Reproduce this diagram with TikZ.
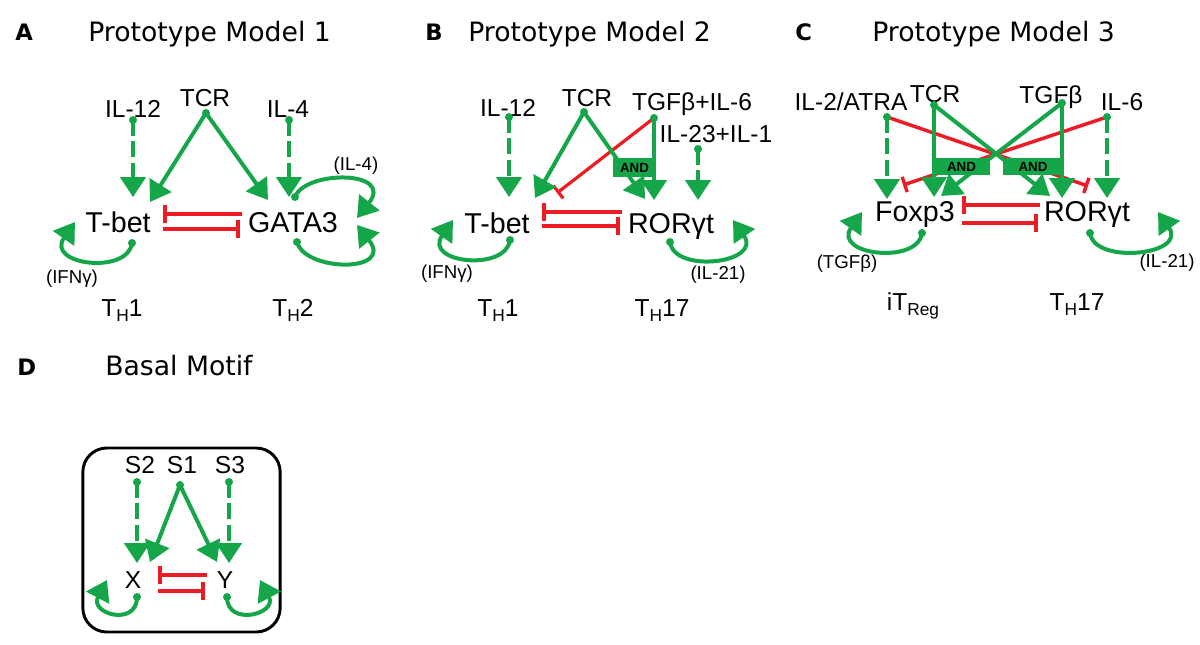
\documentclass[tikz,border=0pt]{standalone}
\usepackage{fontspec}
\setmainfont{Liberation Sans}
\newfontfamily\titlefont{DejaVu Sans}
\usetikzlibrary{arrows.meta}
\definecolor{grn}{RGB}{22,166,74}
\definecolor{rd}{RGB}{237,28,36}
\newcommand{\mysub}[1]{\raisebox{-0.45ex}{\fontsize{13}{13}\selectfont #1}}
\tikzset{
  sig/.style={anchor=base,font=\fontsize{18.4}{20}\selectfont,inner sep=0pt},
  gene/.style={anchor=base,font=\fontsize{21.5}{24}\selectfont,inner sep=0pt},
  small/.style={anchor=base,font=\fontsize{14}{16}\selectfont,inner sep=0pt},
  cell/.style={anchor=base,font=\fontsize{18.4}{20}\selectfont,inner sep=0pt},
  ttl/.style={anchor=base west,font=\titlefont\fontsize{20}{22}\selectfont,inner sep=0pt},
  plab/.style={anchor=base west,font=\titlefont\bfseries\fontsize{17}{20}\selectfont,inner sep=0pt},
  act/.style={draw=grn,line width=3pt,-{Triangle[width=19pt,length=15pt]}},
  dact/.style={act,dash pattern=on 12pt off 4pt},
  inh/.style={draw=rd,line width=3pt,-{Bar[width=14pt]}},
  tinh/.style={draw=rd,line width=2.4pt,-{Bar[width=12pt]}},
  selfloop/.style={draw=grn,line width=3pt,-{Triangle[width=19pt,length=15pt]}},
  andbox/.style={fill=grn,inner sep=0pt,font=\bfseries\fontsize{10}{10}\selectfont},
  dotc/.style={fill=grn}
}
\begin{document}
\begin{tikzpicture}[x=0.75pt,y=-0.75pt]
\useasboundingbox (0,0) rectangle (1200,644);

% ---------------- titles ----------------
\node[plab] (labA) at (15,40) {A};
\node[ttl] (ttlA) at (88,41) {Prototype Model 1};
\node[plab] (labB) at (425,40) {B};
\node[ttl] (ttlB) at (468,41) {Prototype Model 2};
\node[plab] (labC) at (795,40) {C};
\node[ttl] (ttlC) at (872,41) {Prototype Model 3};
\node[plab] (labD) at (17,375) {D};
\node[ttl] (ttlD) at (105,375) {Basal Motif};

% ---------------- Panel A ----------------
\node[sig] (a-il12) at (133,117) {IL-12};
\node[sig] (a-tcr) at (205,106) {TCR};
\node[sig] (a-il4) at (288,117) {IL-4};
\node[gene] (a-tbet) at (118,232) {T-bet};
\node[gene] (a-gata) at (293,232) {GATA3};
\node[small] (a-ifng) at (72,283) {(IFNγ)};
\node[small] (a-il4l) at (356,170) {(IL-4)};
\node[cell] (a-th1) at (122,316) {T\mysub{H}1};
\node[cell] (a-th2) at (293,316) {T\mysub{H}2};

\coordinate (a-d1) at (133,120); \coordinate (a-t1) at (133,197);
\coordinate (a-d2) at (206,113); \coordinate (a-t2) at (150,202); \coordinate (a-t3) at (268,200);
\coordinate (a-d3) at (289,120); \coordinate (a-t4) at (289,197);
\coordinate (a-r1s) at (242,214); \coordinate (a-r1e) at (163,214);
\coordinate (a-r2s) at (163,229); \coordinate (a-r2e) at (240,229);
\coordinate (a-l1) at (132,243); \coordinate (a-l1e) at (75,222);
\coordinate (a-l2) at (295,197); \coordinate (a-l2e) at (357,218);
\coordinate (a-l3) at (297,242); \coordinate (a-l3e) at (357,225);

\draw[dact] (a-d1) -- (a-t1);
\draw[act] (a-d2) -- (a-t2);
\draw[act] (a-d2) -- (a-t3);
\draw[dact] (a-d3) -- (a-t4);
\draw[inh] (a-r1s) -- (a-r1e);
\draw[inh] (a-r2s) -- (a-r2e);
\draw[selfloop] (a-l1) .. controls +(-4,32) and +(-30,43) .. (a-l1e);
\draw[selfloop] (a-l2) .. controls +(10,-27) and +(38,-48) .. (a-l2e);
\draw[selfloop] (a-l3) .. controls +(8,30) and +(38,48) .. (a-l3e);
\foreach \p in {a-d1,a-d2,a-d3,a-l1,a-l2,a-l3} \fill[dotc] (\p) circle[radius=3pt];

% ---------------- Panel B ----------------
\node[sig] (b-il12) at (508,116) {IL-12};
\node[sig] (b-tcr) at (587,106) {TCR};
\node[sig] (b-tgf) at (692,110) {TGFβ+IL-6};
\node[sig] (b-il23) at (716,142) {IL-23+IL-1};
\node[gene] (b-tbet) at (497,233) {T-bet};
\node[gene] (b-ror) at (671,233) {RORγt};
\node[small] (b-ifng) at (447,278) {(IFNγ)};
\node[small] (b-il21) at (718,279) {(IL-21)};
\node[cell] (b-th1) at (498,316) {T\mysub{H}1};
\node[cell] (b-th17) at (662,316) {T\mysub{H}17};

\coordinate (b-d1) at (509,117); \coordinate (b-t1) at (509,197);
\coordinate (b-d2) at (584,112); \coordinate (b-t2) at (535,198); \coordinate (b-t3) at (645,199);
\coordinate (b-d3) at (654,118); \coordinate (b-t4) at (654,200); \coordinate (b-t5) at (557,193);
\coordinate (b-d4) at (698,149); \coordinate (b-t6) at (698,200);
\coordinate (b-r1s) at (622,212); \coordinate (b-r1e) at (542,212);
\coordinate (b-r2s) at (542,226); \coordinate (b-r2e) at (620,226);
\coordinate (b-l1) at (510,240); \coordinate (b-l1e) at (453,220);
\coordinate (b-l2) at (670,242); \coordinate (b-l2e) at (733,220);

\draw[tinh] (b-d3) -- (b-t5);
\draw[dact] (b-d1) -- (b-t1);
\draw[act] (b-d2) -- (b-t2);
\draw[act] (b-d2) -- (b-t3);
\draw[act] (b-d3) -- (b-t4);
\draw[dact] (b-d4) -- (b-t6);
\node[andbox,minimum width=32pt,minimum height=14pt] (b-and) at (634.5,167.5) {AND};
\draw[inh] (b-r1s) -- (b-r1e);
\draw[inh] (b-r2s) -- (b-r2e);
\draw[selfloop] (b-l1) .. controls +(-4,32) and +(-30,43) .. (b-l1e);
\draw[selfloop] (b-l2) .. controls +(4,32) and +(30,43) .. (b-l2e);
\foreach \p in {b-d1,b-d2,b-d3,b-d4,b-l1,b-l2} \fill[dotc] (\p) circle[radius=3pt];

% ---------------- Panel C ----------------
\node[sig] (c-il2) at (851,110) {IL-2/ATRA};
\node[sig] (c-tcr) at (935,102) {TCR};
\node[sig] (c-tgf) at (1051,103) {TGFβ};
\node[sig] (c-il6) at (1122,110) {IL-6};
\node[gene] (c-foxp3) at (915,221) {Foxp3};
\node[gene] (c-ror) at (1087,221) {RORγt};
\node[small] (c-tgfl) at (847,268) {(TGFβ)};
\node[small] (c-il21) at (1167,267) {(IL-21)};
\node[cell] (c-treg) at (913,310) {iT\mysub{Reg}};
\node[cell] (c-th17) at (1077,310) {T\mysub{H}17};

\coordinate (c-d1) at (887,117); \coordinate (c-t1) at (887,199);
\coordinate (c-d2) at (934,105); \coordinate (c-t2) at (934,197); \coordinate (c-t3) at (1050,196);
\coordinate (c-d3) at (1062,103); \coordinate (c-t4) at (1062,198); \coordinate (c-t5) at (941,196);
\coordinate (c-d4) at (1107,117); \coordinate (c-t6) at (1107,198);
\coordinate (c-t7) at (1088,186); \coordinate (c-t8) at (903,185);
\coordinate (c-r1s) at (1040,205); \coordinate (c-r1e) at (962,205);
\coordinate (c-r2s) at (962,223); \coordinate (c-r2e) at (1038,223);
\coordinate (c-l1) at (922,233); \coordinate (c-l1e) at (862,212);
\coordinate (c-l2) at (1090,233); \coordinate (c-l2e) at (1158,212);

\draw[tinh,line width=2.6pt] (c-d1) -- (c-t7);
\draw[tinh,line width=2.6pt] (c-d4) -- (c-t8);
\draw[dact] (c-d1) -- (c-t1);
\draw[dact] (c-d4) -- (c-t6);
\draw[act] (c-d2) -- (c-t2);
\draw[act] (c-d2) -- (c-t3);
\draw[act] (c-d3) -- (c-t4);
\draw[act] (c-d3) -- (c-t5);
\node[andbox,minimum width=43pt,minimum height=13pt] (c-and1) at (961.5,166.5) {AND};
\node[andbox,minimum width=45pt,minimum height=13pt] (c-and2) at (1033,166.5) {AND};
\draw[inh] (c-r1s) -- (c-r1e);
\draw[inh] (c-r2s) -- (c-r2e);
\draw[selfloop] (c-l1) .. controls +(-4,32) and +(-30,43) .. (c-l1e);
\draw[selfloop] (c-l2) .. controls +(4,32) and +(30,43) .. (c-l2e);
\foreach \p in {c-d1,c-d2,c-d3,c-d4,c-l1,c-l2} \fill[dotc] (\p) circle[radius=3pt];

% ---------------- Panel D ----------------
\node[draw,line width=2.2pt,rounded corners=18pt,minimum width=148pt,minimum height=138pt,inner sep=0pt] (d-box) at (181.5,540) {};
\node[sig] (d-s2) at (140,473) {S2};
\node[sig] (d-s1) at (182,473) {S1};
\node[sig] (d-s3) at (230,473) {S3};
\node[sig] (d-x) at (133,588) {X};
\node[sig] (d-y) at (225,588) {Y};

\coordinate (d-d1) at (137,482); \coordinate (d-t1) at (137,563);
\coordinate (d-d2) at (180,485); \coordinate (d-t2) at (150,562); \coordinate (d-t3) at (217,562);
\coordinate (d-d3) at (229,482); \coordinate (d-t4) at (229,563);
\coordinate (d-r1s) at (207,575); \coordinate (d-r1e) at (158,575);
\coordinate (d-r2s) at (158,591); \coordinate (d-r2e) at (205,591);
\coordinate (d-l1) at (137,597); \coordinate (d-l1e) at (107,580);
\coordinate (d-l2) at (227,597); \coordinate (d-l2e) at (260,580);

\draw[dact] (d-d1) -- (d-t1);
\draw[act] (d-d2) -- (d-t2);
\draw[act] (d-d2) -- (d-t3);
\draw[dact] (d-d3) -- (d-t4);
\draw[inh] (d-r1s) -- (d-r1e);
\draw[inh] (d-r2s) -- (d-r2e);
\draw[selfloop] (d-l1) .. controls +(0,30) and +(-18,34) .. (d-l1e);
\draw[selfloop] (d-l2) .. controls +(0,30) and +(18,34) .. (d-l2e);
\foreach \p in {d-d1,d-d2,d-d3,d-l1,d-l2} \fill[dotc] (\p) circle[radius=3pt];
\end{tikzpicture}
\end{document}
